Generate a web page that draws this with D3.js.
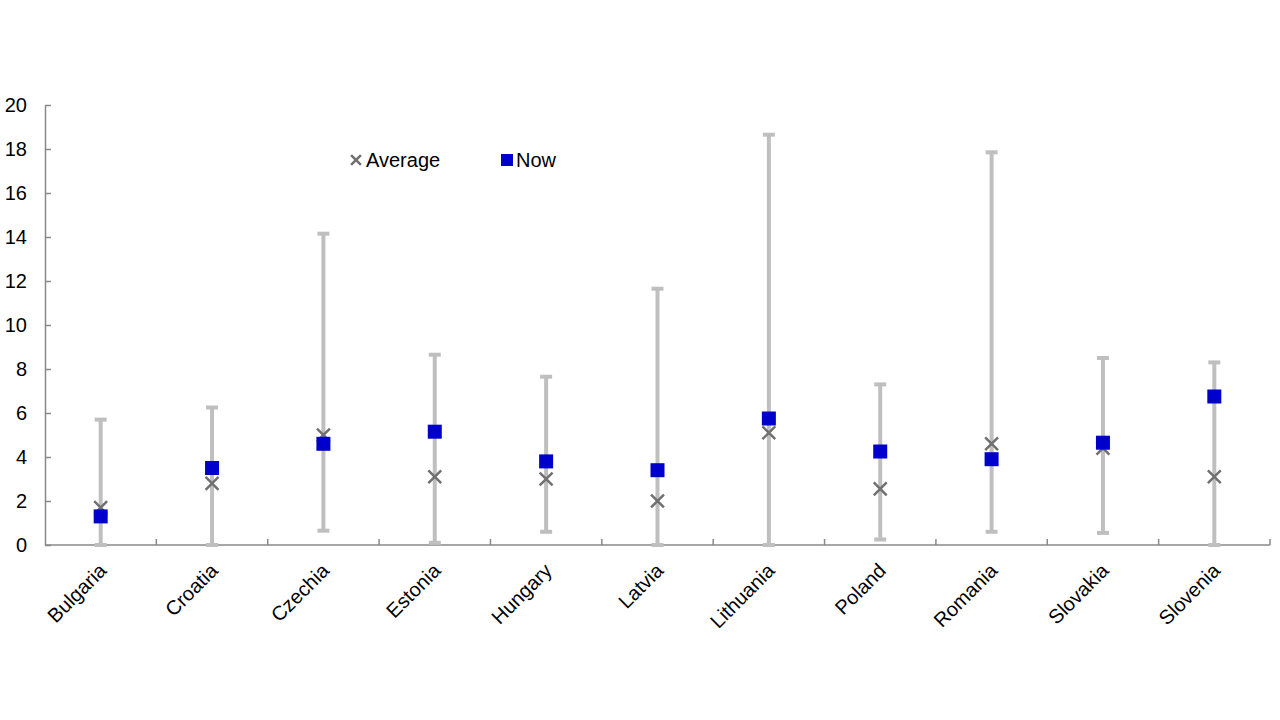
<!DOCTYPE html>
<html>
<head>
<meta charset="utf-8">
<title>Average vs Now</title>
<style>
    body { margin: 0; background: #fff; }
    svg text { font-family: "Liberation Sans", Arial, sans-serif; fill: #000; }
    .axis path, .axis line { stroke: #898989; stroke-width: 1.5px; }
</style>
</head>
<body>
<svg width="1280" height="720"></svg>
<script src="https://d3js.org/d3.v7.min.js"></script>
<script>
const countries = ["Bulgaria", "Croatia", "Czechia", "Estonia", "Hungary", "Latvia",
                   "Lithuania", "Poland", "Romania", "Slovakia", "Slovenia"];
const rangeMin = [0, 0, 0.65, 0.1, 0.6, 0, 0, 0.25, 0.6, 0.55, 0];
const rangeMax = [5.7, 6.25, 14.15, 8.65, 7.65, 11.65, 18.65, 7.3, 17.85, 8.5, 8.3];
const average  = [1.7, 2.8, 5.0, 3.1, 3.0, 2.0, 5.1, 2.55, 4.6, 4.4, 3.1];
const now      = [1.3, 3.5, 4.6, 5.15, 3.8, 3.4, 5.75, 4.25, 3.9, 4.65, 6.75];
const yTicks   = [0, 2, 4, 6, 8, 10, 12, 14, 16, 18, 20];

const rows = countries.map((c, i) => ({
    c, lo: rangeMin[i], hi: rangeMax[i], avg: average[i], now: now[i]
}));

const svg = d3.select("svg");
const mLeft = 45, mRight = 1270, mTop = 105, mBottom = 545;

const x = d3.scaleBand().domain(countries).range([mLeft, mRight]);
const y = d3.scaleLinear().domain([0, 20]).range([mBottom, mTop]);
const cx = d => x(d.c) + x.bandwidth() / 2;

// axes, ticks pointing inward
const xAxis = svg.append("g").attr("class", "axis")
    .attr("transform", `translate(0,${mBottom})`)
    .call(d3.axisBottom(x).tickSize(0).tickFormat(""));
xAxis.select(".domain").attr("d", `M${mLeft},0H${mRight}`);
xAxis.append("g").selectAll("line")
    .data(d3.range(1, countries.length + 1))
    .join("line")
    .attr("x1", i => mLeft + i * x.bandwidth()).attr("x2", i => mLeft + i * x.bandwidth())
    .attr("y1", 0).attr("y2", -6);

const yAxis = svg.append("g").attr("class", "axis")
    .attr("transform", `translate(${mLeft},0)`)
    .call(d3.axisLeft(y).tickValues(yTicks).tickSizeInner(-6).tickSizeOuter(0).tickPadding(18));
yAxis.selectAll("text").attr("font-size", "20px");

// country labels
svg.append("g").selectAll("text")
    .data(rows)
    .join("text")
    .attr("text-anchor", "end")
    .attr("font-size", "20px")
    .attr("transform", d => `translate(${cx(d) + 7},${mBottom + 27}) rotate(-45)`)
    .text(d => d.c);

// range bars
const bars = svg.append("g").attr("stroke", "#bfbfbf").attr("stroke-width", 4);
bars.selectAll("line.bar").data(rows).join("line").attr("class", "bar")
    .attr("x1", cx).attr("x2", cx)
    .attr("y1", d => y(d.lo)).attr("y2", d => y(d.hi));
bars.selectAll("line.capHi").data(rows).join("line").attr("class", "capHi")
    .attr("x1", d => cx(d) - 6).attr("x2", d => cx(d) + 6)
    .attr("y1", d => y(d.hi)).attr("y2", d => y(d.hi));
bars.selectAll("line.capLo").data(rows).join("line").attr("class", "capLo")
    .attr("x1", d => cx(d) - 6).attr("x2", d => cx(d) + 6)
    .attr("y1", d => y(d.lo)).attr("y2", d => y(d.lo));

// average markers (x)
const cross = d3.symbol().type(d3.symbolX).size(110);
svg.append("g").selectAll("path")
    .data(rows)
    .join("path")
    .attr("d", cross)
    .attr("transform", d => `translate(${cx(d)},${y(d.avg)})`)
    .attr("fill", "none")
    .attr("stroke", "#707070")
    .attr("stroke-width", 2.5);

// now markers (squares)
svg.append("g").selectAll("rect")
    .data(rows)
    .join("rect")
    .attr("x", d => cx(d) - 7).attr("y", d => y(d.now) - 7)
    .attr("width", 14).attr("height", 14)
    .attr("fill", "#0000cc");

// legend
const legend = svg.append("g");
legend.append("path")
    .attr("d", d3.symbol().type(d3.symbolX).size(65))
    .attr("transform", "translate(356,160)")
    .attr("fill", "none").attr("stroke", "#707070").attr("stroke-width", 2.5);
legend.append("text").attr("x", 366).attr("y", 167).attr("font-size", "20px").text("Average");
legend.append("rect").attr("x", 501).attr("y", 154).attr("width", 12).attr("height", 12).attr("fill", "#0000cc");
legend.append("text").attr("x", 516).attr("y", 167).attr("font-size", "20px").text("Now");
</script>
</body>
</html>
